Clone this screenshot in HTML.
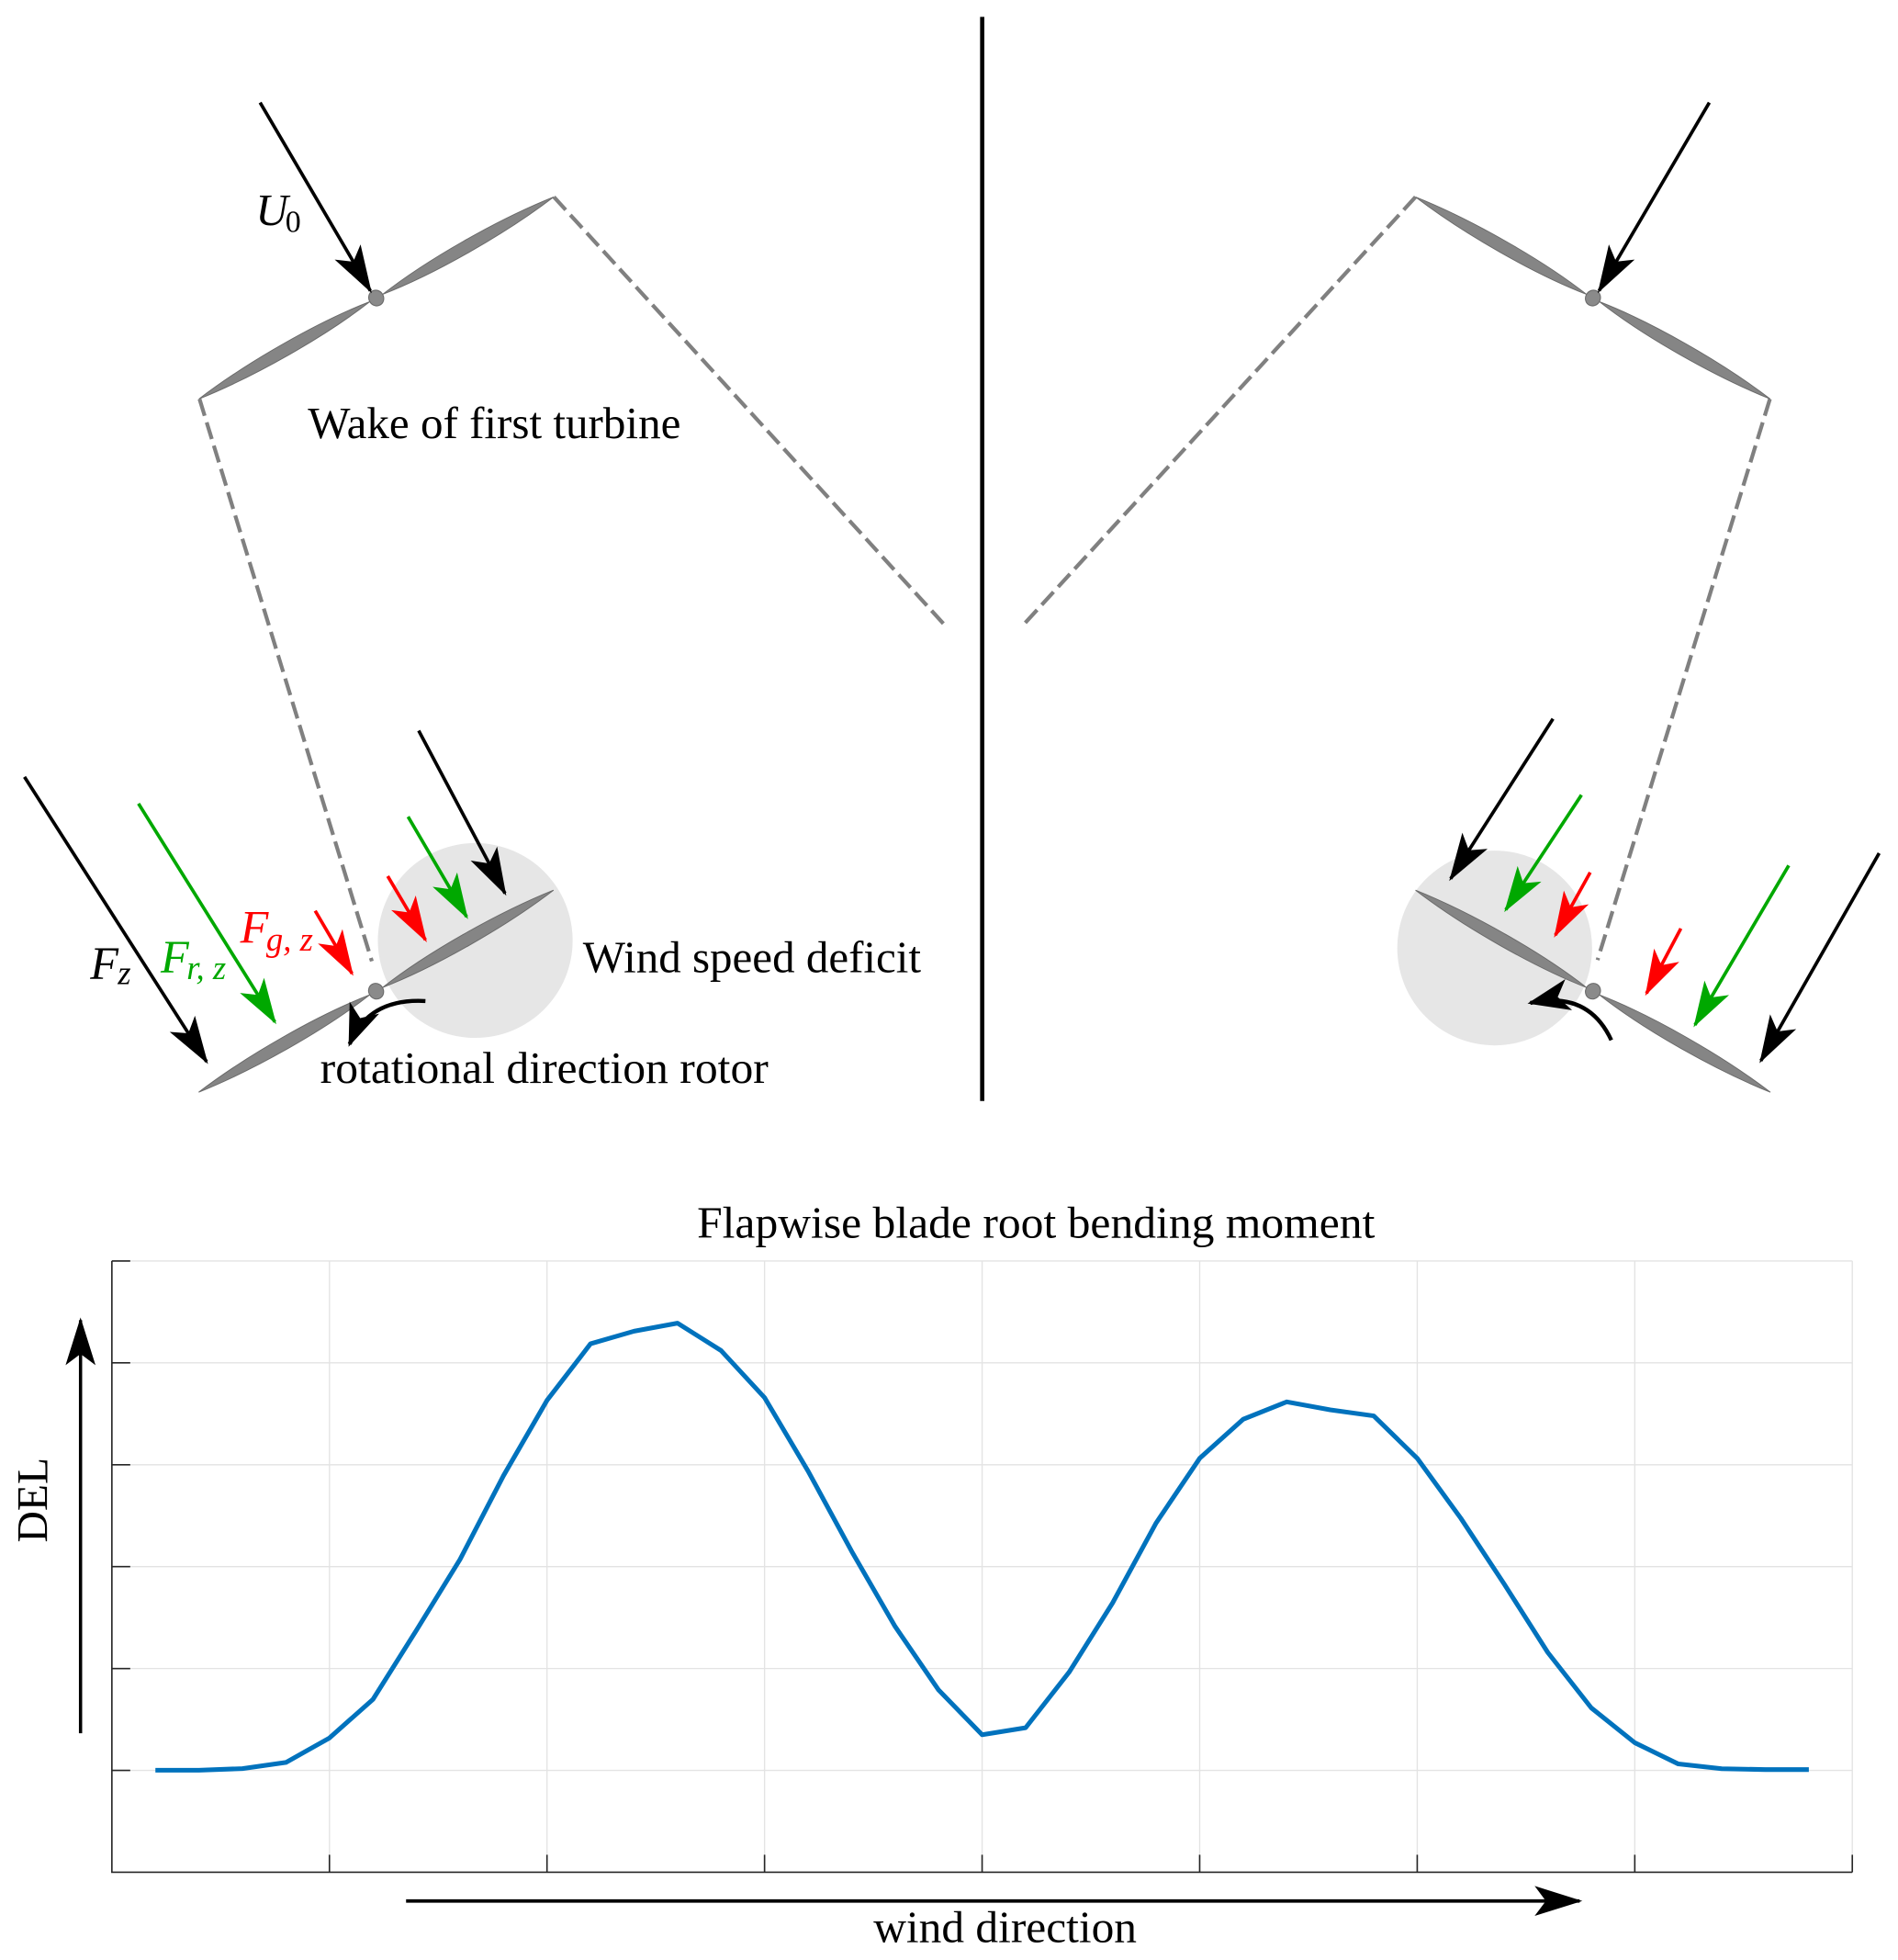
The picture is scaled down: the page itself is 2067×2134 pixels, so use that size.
<!DOCTYPE html>
<html>
<head>
<meta charset="utf-8">
<style>
html,body{margin:0;padding:0;background:#fff;}
svg{display:block;}
text{font-family:"Liberation Serif","DejaVu Serif",serif;}
</style>
</head>
<body>
<svg width="2067" height="2134" viewBox="0 0 1520 1569.26" preserveAspectRatio="none" xmlns="http://www.w3.org/2000/svg">
<defs>
<marker id="hk" markerUnits="userSpaceOnUse" markerWidth="60" markerHeight="60" refX="0" refY="0" orient="auto" viewBox="-30 -15 40 30" overflow="visible"><path d="M1.5,0 L-24,-8 L-18,0 L-24,8 Z" fill="#000"/></marker>
<marker id="hg" markerUnits="userSpaceOnUse" markerWidth="60" markerHeight="60" refX="0" refY="0" orient="auto" viewBox="-30 -15 40 30" overflow="visible"><path d="M1.5,0 L-23,-7.6 L-17,0 L-23,7.6 Z" fill="#00a800"/></marker>
<marker id="hr" markerUnits="userSpaceOnUse" markerWidth="60" markerHeight="60" refX="0" refY="0" orient="auto" viewBox="-30 -15 40 30" overflow="visible"><path d="M1.5,0 L-23,-7.6 L-17,0 L-23,7.6 Z" fill="#ff0000"/></marker>
<marker id="hc" markerUnits="userSpaceOnUse" markerWidth="60" markerHeight="60" refX="0" refY="0" orient="auto" viewBox="-30 -15 40 30" overflow="visible"><path d="M1.5,0 L-21,-8.5 L-15,0 L-21,8.5 Z" fill="#000"/></marker>
<g id="blade"><path d="M6,0 C50,-6.6 115,-6.6 163.5,0 C115,6.6 50,6.6 6,0 Z" fill="#858585" stroke="#6a6a6a" stroke-width="0.7"/></g>
<g id="rotor">
<use href="#blade"/>
<use href="#blade" transform="rotate(180)"/>
<ellipse cx="0" cy="0" rx="5.9" ry="6.4" fill="#8a8a8a" stroke="#6a6a6a" stroke-width="0.8"/>
</g>
</defs>

<!-- wind speed deficit circles -->
<circle cx="380.6" cy="753" r="78" fill="#e6e6e6"/>
<circle cx="1197" cy="759" r="78" fill="#e6e6e6"/>

<!-- dashed wake boundaries -->
<g stroke="#808080" stroke-width="3.1" stroke-dasharray="14 5.5" fill="none">
<line x1="443.6" y1="157.7" x2="758" y2="502"/>
<line x1="159.8" y1="319.5" x2="297.8" y2="769.6"/>
<line x1="1133.6" y1="157.7" x2="818" y2="502"/>
<line x1="1417.4" y1="319.5" x2="1279.4" y2="768.6"/>
</g>

<!-- divider -->
<line x1="786.6" y1="13.5" x2="786.6" y2="881.5" stroke="#000" stroke-width="3.4"/>

<!-- rotors -->
<use href="#rotor" transform="translate(301.3,238.6) rotate(-29.65)"/>
<use href="#rotor" transform="translate(1275.7,238.6) rotate(29.65)"/>
<use href="#rotor" transform="translate(301.2,793.6) rotate(-29.65)"/>
<use href="#rotor" transform="translate(1275.7,793.6) rotate(29.65)"/>

<!-- arrows top -->
<g stroke-width="2.7" fill="none">
<line x1="208.3" y1="82.1" x2="296.6" y2="232.8" stroke="#000" marker-end="url(#hk)"/>
<line x1="1368.9" y1="82.1" x2="1280.6" y2="232.8" stroke="#000" marker-end="url(#hk)"/>

<!-- bottom-left -->
<line x1="19.6" y1="622" x2="165.4" y2="850" stroke="#000" marker-end="url(#hk)"/>
<line x1="110.9" y1="643.4" x2="220.1" y2="818.2" stroke="#00a800" marker-end="url(#hg)"/>
<line x1="252.4" y1="729.2" x2="281.9" y2="779.4" stroke="#ff0000" marker-end="url(#hr)"/>
<line x1="310.5" y1="701.5" x2="340.7" y2="752.5" stroke="#ff0000" marker-end="url(#hr)"/>
<line x1="326.8" y1="653.9" x2="373.7" y2="734" stroke="#00a800" marker-end="url(#hg)"/>
<line x1="335.3" y1="585" x2="404.4" y2="715.2" stroke="#000" marker-end="url(#hk)"/>

<!-- bottom-right -->
<line x1="1243.7" y1="575.5" x2="1161.8" y2="703.5" stroke="#000" marker-end="url(#hk)"/>
<line x1="1266.5" y1="636.5" x2="1205.9" y2="728.4" stroke="#00a800" marker-end="url(#hg)"/>
<line x1="1273.5" y1="698.5" x2="1245.6" y2="748.7" stroke="#ff0000" marker-end="url(#hr)"/>
<line x1="1346.1" y1="743.4" x2="1318.6" y2="795.3" stroke="#ff0000" marker-end="url(#hr)"/>
<line x1="1432.5" y1="692.9" x2="1357.4" y2="820.6" stroke="#00a800" marker-end="url(#hg)"/>
<line x1="1504.9" y1="683.1" x2="1410.2" y2="849.3" stroke="#000" marker-end="url(#hk)"/>

<!-- curved rotation arrows -->
<path d="M340.7,801.5 Q295,799 280,836" stroke="#000" stroke-width="3.2" marker-end="url(#hc)"/>
<path d="M1290.4,832.8 Q1272,793 1225.5,803" stroke="#000" stroke-width="3.2" marker-end="url(#hc)"/>
</g>

<!-- labels top section -->
<text x="204.7" y="180" font-size="36" font-style="italic">U</text>
<text x="228.5" y="185.5" font-size="25">0</text>

<text x="246.5" y="350.6" font-size="36" textLength="298.7" lengthAdjust="spacingAndGlyphs">Wake of first turbine</text>
<text x="466.8" y="778.2" font-size="36" textLength="270.8" lengthAdjust="spacingAndGlyphs">Wind speed deficit</text>
<text x="256.4" y="867" font-size="36" textLength="359" lengthAdjust="spacingAndGlyphs">rotational direction rotor</text>

<text x="72.3" y="783.8" font-size="37" font-style="italic">F</text>
<text x="94.3" y="787.8" font-size="27" font-style="italic">z</text>

<text x="128.7" y="778.7" font-size="37" font-style="italic" fill="#00a800">F</text>
<text x="149.5" y="784" font-size="27" font-style="italic" fill="#00a800">r, z</text>

<text x="192.4" y="755" font-size="37" font-style="italic" fill="#ff0000">F</text>
<text x="213.2" y="761" font-size="27" font-style="italic" fill="#ff0000">g, z</text>

<!-- plot -->
<text x="558.2" y="991" font-size="36" textLength="542.9" lengthAdjust="spacingAndGlyphs">Flapwise blade root bending moment</text>

<g stroke="#e3e3e3" stroke-width="1">
<line x1="89.6" y1="1009.6" x2="1483.4" y2="1009.6"/>
<line x1="89.6" y1="1091.17" x2="1483.4" y2="1091.17"/>
<line x1="89.6" y1="1172.74" x2="1483.4" y2="1172.74"/>
<line x1="89.6" y1="1254.31" x2="1483.4" y2="1254.31"/>
<line x1="89.6" y1="1335.88" x2="1483.4" y2="1335.88"/>
<line x1="89.6" y1="1417.45" x2="1483.4" y2="1417.45"/>
<line x1="263.83" y1="1009.6" x2="263.83" y2="1499"/>
<line x1="438.06" y1="1009.6" x2="438.06" y2="1499"/>
<line x1="612.29" y1="1009.6" x2="612.29" y2="1499"/>
<line x1="786.52" y1="1009.6" x2="786.52" y2="1499"/>
<line x1="960.75" y1="1009.6" x2="960.75" y2="1499"/>
<line x1="1134.98" y1="1009.6" x2="1134.98" y2="1499"/>
<line x1="1309.21" y1="1009.6" x2="1309.21" y2="1499"/>
<line x1="1483.4" y1="1009.6" x2="1483.4" y2="1499"/>
</g>

<g stroke="#262626" stroke-width="1.2" fill="none">
<path d="M89.6,1009.6 L89.6,1499 L1483.4,1499"/>
<line x1="89.6" y1="1009.6" x2="104.3" y2="1009.6"/>
<line x1="89.6" y1="1091.17" x2="104.3" y2="1091.17"/>
<line x1="89.6" y1="1172.74" x2="104.3" y2="1172.74"/>
<line x1="89.6" y1="1254.31" x2="104.3" y2="1254.31"/>
<line x1="89.6" y1="1335.88" x2="104.3" y2="1335.88"/>
<line x1="89.6" y1="1417.45" x2="104.3" y2="1417.45"/>
<line x1="263.83" y1="1499" x2="263.83" y2="1485"/>
<line x1="438.06" y1="1499" x2="438.06" y2="1485"/>
<line x1="612.29" y1="1499" x2="612.29" y2="1485"/>
<line x1="786.52" y1="1499" x2="786.52" y2="1485"/>
<line x1="960.75" y1="1499" x2="960.75" y2="1485"/>
<line x1="1134.98" y1="1499" x2="1134.98" y2="1485"/>
<line x1="1309.21" y1="1499" x2="1309.21" y2="1485"/>
<line x1="1483.4" y1="1499" x2="1483.4" y2="1485"/>
</g>

<polyline fill="none" stroke="#0072bd" stroke-width="3.7" stroke-linejoin="round" points="
124.45,1417.3 159.29,1417.3 194.14,1416.0 228.98,1411.1 263.83,1391.5 298.68,1360.6 333.52,1305.2 368.37,1248.6 403.21,1181.5 438.06,1121.2 472.91,1075.9 507.75,1065.8 542.60,1059.4 577.44,1081.3 612.29,1119.0 647.14,1177.8 681.98,1241.9 716.83,1302.2 751.67,1353.1 786.52,1388.9 821.37,1383.3 856.21,1338.8 891.06,1283.3 925.90,1219.3 960.75,1167.6 995.60,1136.3 1030.44,1122.4 1065.29,1128.8 1100.13,1133.6 1134.98,1167.6 1169.83,1215.5 1204.67,1268.3 1239.52,1323.0 1274.36,1367.4 1309.21,1395.3 1344.06,1412.3 1378.90,1416.1 1413.75,1416.8 1448.59,1416.8"/>

<!-- axis annotation arrows -->
<line x1="64.5" y1="1387.7" x2="64.5" y2="1057" stroke="#000" stroke-width="2.6" marker-end="url(#hk)"/>
<line x1="325.2" y1="1522" x2="1265" y2="1522" stroke="#000" stroke-width="2.8" marker-end="url(#hk)"/>

<text transform="translate(38,1201) rotate(-90)" text-anchor="middle" font-size="35">DEL</text>
<text x="699.5" y="1554.8" font-size="36" textLength="210.9" lengthAdjust="spacingAndGlyphs">wind direction</text>
</svg>
</body>
</html>
